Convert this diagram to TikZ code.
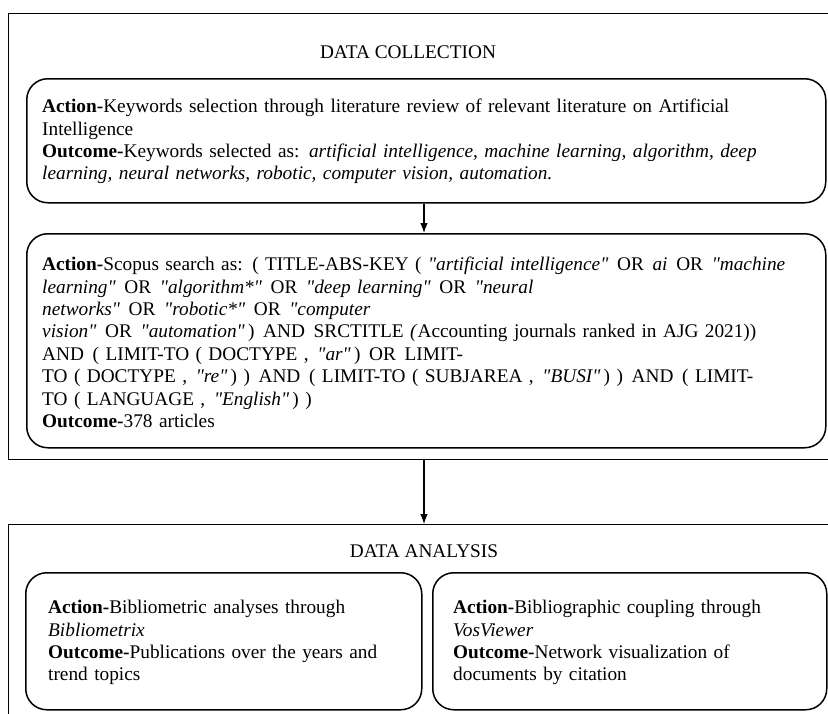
\documentclass[tikz,border=0pt]{standalone}
\usepackage{fontspec}
\setmainfont{Liberation Serif}[Ligatures=TeXOff]
\usetikzlibrary{arrows.meta}
\newcommand\ssp{\hspace{0.45em}}
\begin{document}
\begin{tikzpicture}[x=1pt,y=-1pt,
  frame/.style={draw, line width=1.3pt, inner sep=0pt, rectangle, anchor=north west},
  box/.style={draw, line width=1.5pt, rounded corners=21pt, inner sep=0pt, anchor=north west},
  txt/.style={anchor=north west, inner sep=0pt, align=left, text width=790pt, font=\fontsize{19.3}{22.4}\selectfont},
  ttl/.style={inner sep=0pt, font=\fontsize{19.3}{22.4}\selectfont},
  arr/.style={-{Latex[length=10pt,width=7.5pt]}, line width=1.1pt}]
\useasboundingbox (0,0) rectangle (828,713);
\clip (0,0) rectangle (828,713);
% frames
\node[frame, minimum width=832pt, minimum height=446pt] (top) at (8,13) {};
\node[frame, minimum width=832pt, minimum height=220pt] (bot) at (8,524) {};
% titles
\node[ttl] (t1) at (408,52) {DATA COLLECTION};
\node[ttl] (t2) at (424,551) {DATA ANALYSIS};
% boxes
\node[box, minimum width=799pt, minimum height=124pt] (b1) at (26,78) {};
\node[box, minimum width=799pt, minimum height=214pt] (b2) at (26,233) {};
\node[box, minimum width=396pt, minimum height=137pt] (b3) at (25,572) {};
\node[box, minimum width=394pt, minimum height=137pt] (b4) at (432,572) {};
% texts
\node[txt] (x1) at (42,96.8) {\strut\textbf{Action-}Keywords selection through literature review of relevant literature on Artificial\\
Intelligence\\
\textbf{Outcome-}Keywords selected as: \textit{artificial intelligence, machine learning, algorithm, deep}\\
\textit{learning, neural networks, robotic, computer vision, automation.}};
\node[txt] (x2) at (42,254.8) {\strut\textbf{Action-}Scopus search as: ( TITLE-ABS-KEY ( \textit{"artificial intelligence"}\ssp OR\ssp \textit{ai}\ssp OR\ssp \textit{"machine}\\
\textit{learning"}\ssp OR\ssp \textit{"algorithm*"}\ssp OR\ssp \textit{"deep learning"}\ssp OR\ssp \textit{"neural}\\
\textit{networks"}\ssp OR\ssp \textit{"robotic*"}\ssp OR\ssp \textit{"computer}\\
\textit{vision"}\ssp OR\ssp \textit{"automation"}\,)\ssp AND\ssp SRCTITLE \textit{(}Accounting journals ranked in AJG 2021))\\
AND\ssp ( LIMIT-TO ( DOCTYPE ,\ssp \textit{"ar"}\,)\ssp OR\ssp LIMIT-\\
TO ( DOCTYPE ,\ssp \textit{"re"}\,) )\ssp AND\ssp ( LIMIT-TO ( SUBJAREA ,\ssp \textit{"BUSI"}\,) )\ssp AND\ssp ( LIMIT-\\
TO ( LANGUAGE ,\ssp \textit{"English"}\,) )\\
\textbf{Outcome-}378 articles};
\node[txt] (x3) at (48,597.8) {\strut\textbf{Action-}Bibliometric analyses through\\
\textit{Bibliometrix}\\
\textbf{Outcome-}Publications over the years and\\
trend topics};
\node[txt] (x4) at (453,597.8) {\strut\textbf{Action-}Bibliographic coupling through\\
\textit{VosViewer}\\
\textbf{Outcome-}Network visualization of\\
documents by citation};
% arrows
\coordinate (ax) at (424,0);
\draw[arr] (b1.south -| ax) -- (b2.north -| ax);
\draw[arr] (top.south -| ax) -- (bot.north -| ax);
\end{tikzpicture}
\end{document}
